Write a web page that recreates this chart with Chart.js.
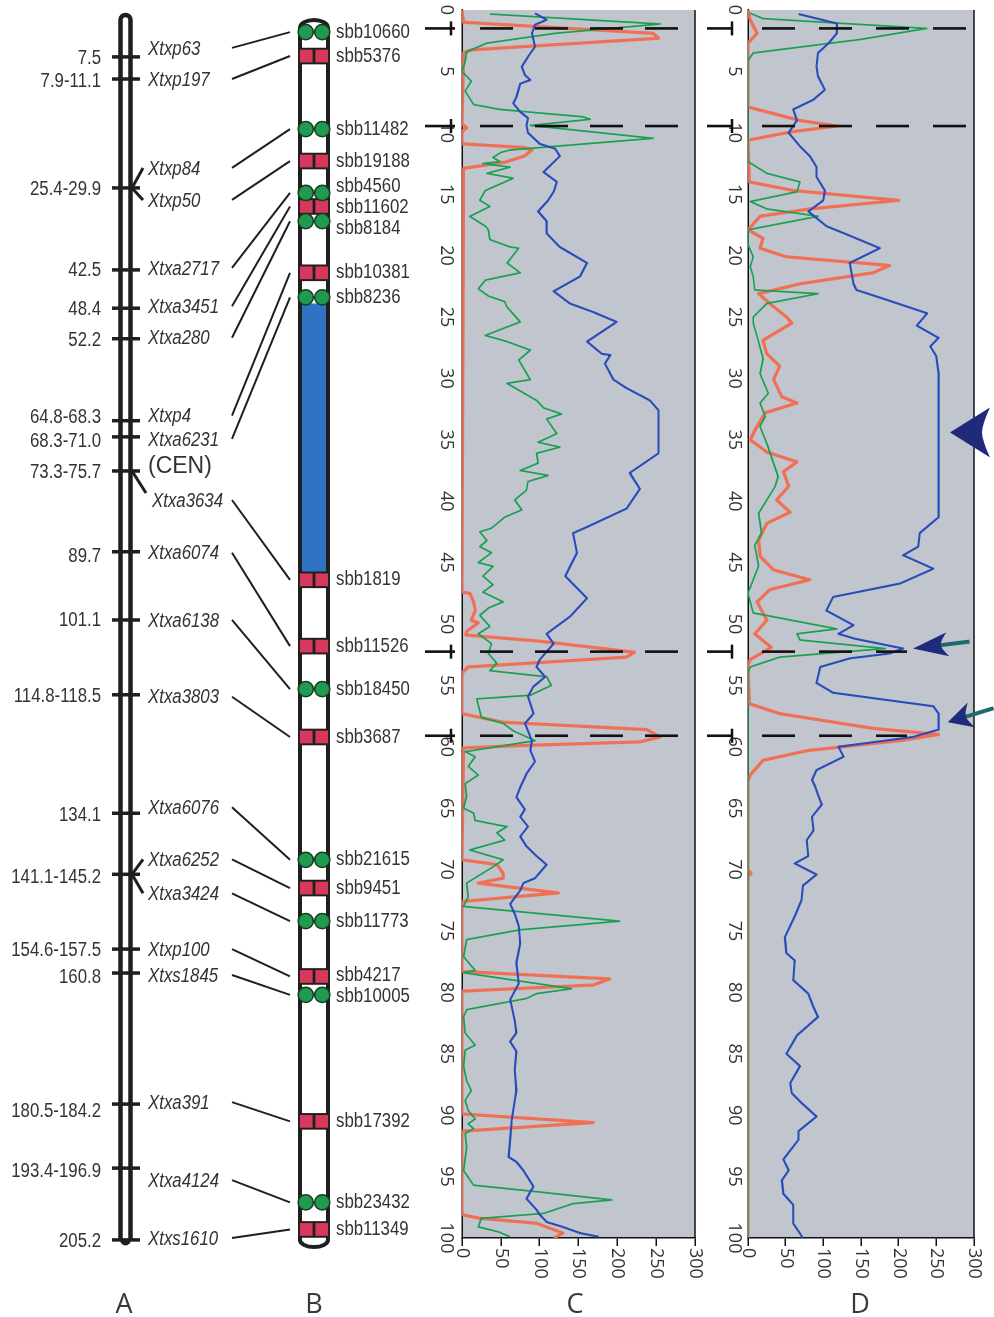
<!DOCTYPE html>
<html>
<head>
<meta charset="utf-8">
<script src="https://cdn.jsdelivr.net/npm/chart.js@4.4.1/dist/chart.umd.min.js"></script>
<style>
  html, body { margin: 0; padding: 0; background: #fff; }
  #page { position: relative; width: 994px; height: 1317px; overflow: hidden; background: #fff; }
  #mapCanvas { position: absolute; left: 0; top: 0; }
  .plot-box { position: absolute; left: 0; top: 0; width: 1317px; transform-origin: 0 0; }
  .plot-box canvas { display: block; }
</style>
</head>
<body>
<div id="page">
  <canvas id="mapCanvas" width="994" height="1317"></canvas>
  <div class="plot-box" id="boxC"><canvas id="chartC" width="1317" height="310"></canvas></div>
  <div class="plot-box" id="boxD"><canvas id="chartD" width="1317" height="300"></canvas></div>
</div>
<script>
// ---------- Panel A: genetic linkage map (cM) ----------
const aIntervals = ['7.5', '7.9-11.1', '25.4-29.9', '42.5', '48.4', '52.2', '64.8-68.3', '68.3-71.0',
  '73.3-75.7', '89.7', '101.1', '114.8-118.5', '134.1', '141.1-145.2', '154.6-157.5', '160.8',
  '180.5-184.2', '193.4-196.9', '205.2'];
const aTickCm = [7.5, 11.2, 29.4, 43.1, 49.5, 54.6, 68.3, 71.0, 76.7, 90.2, 101.6, 114.1, 133.9,
  144.1, 156.6, 160.6, 182.5, 193.2, 205.2];
const aNames = ['Xtxp63', 'Xtxp197', 'Xtxp84', 'Xtxp50', 'Xtxa2717', 'Xtxa3451', 'Xtxa280', 'Xtxp4',
  'Xtxa6231', 'Xtxa3634', 'Xtxa6074', 'Xtxa6138', 'Xtxa3803', 'Xtxa6076', 'Xtxa6252', 'Xtxa3424',
  'Xtxp100', 'Xtxs1845', 'Xtxa391', 'Xtxa4124', 'Xtxs1610'];
const aNameTick = [0, 1, 2, 2, 3, 4, 5, 6, 7, 8, 9, 10, 11, 12, 13, 13, 14, 15, 16, 17, 18];
const centromereTick = 8;

// ---------- Panel B: physical map (Mb), one marker per A name ----------
const bMarkers = ['sbb10660', 'sbb5376', 'sbb11482', 'sbb19188', 'sbb4560', 'sbb11602', 'sbb8184',
  'sbb10381', 'sbb8236', 'sbb1819', 'sbb11526', 'sbb18450', 'sbb3687', 'sbb21615', 'sbb9451',
  'sbb11773', 'sbb4217', 'sbb10005', 'sbb17392', 'sbb23432', 'sbb11349'];
const bMarkerMb = [1.8, 3.75, 9.7, 12.3, 14.9, 16.0, 17.2, 21.4, 23.4, 46.4, 51.8, 55.3, 59.2,
  69.2, 71.5, 74.2, 78.7, 80.2, 90.5, 97.1, 99.3];
const bMarkerType = ['c', 's', 'c', 's', 'c', 's', 'c', 's', 'c', 's', 's', 'c', 's', 'c', 's',
  'c', 's', 'c', 's', 'c', 's'];
const bBlueBlock = [23.9, 45.8];

// ---------- Panels C and D: scans along the chromosome (Mb) ----------
const positionTicks = [0, 5, 10, 15, 20, 25, 30, 35, 40, 45, 50, 55, 60, 65, 70, 75, 80, 85, 90, 95, 100];
const valueTicks = [0, 50, 100, 150, 200, 250, 300];
const cutLines = [1.5, 9.45, 52.25, 59.1];

const cRedPos = [0, 1.0, 1.9, 2.3, 3.25, 3.5, 9.3, 9.6, 9.9, 10.9, 11.2, 11.4, 11.9, 12.4, 12.9,
  47.4, 47.5, 48.2, 48.9, 49.7, 49.9, 50.6, 50.9, 51.4, 52.3, 52.7, 53.5, 54.0,
  57.3, 58.0, 58.6, 59.2, 59.6, 59.9, 60.1, 69.2, 69.6, 70.3, 70.7, 71.1, 71.9, 72.6,
  78.3, 78.9, 79.4, 79.9, 89.9, 90.6, 91.3, 98.1, 98.4, 98.8, 99.2, 99.6, 100];
const cRedVal = [0, 2, 246, 253, 12, 2, 0, 6, 0, 0, 80, 90, 80, 55, 2,
  0, 10, 15, 17, 12, 21, 6, 5, 100, 222, 212, 8, 0,
  0, 53, 238, 255, 229, 75, 2, 0, 45, 53, 53, 21, 124, 0,
  0, 190, 169, 0, 0, 169, 0, 0, 23, 96, 113, 130, 118];

const cGreenPos = [0.33, 1.14, 1.9, 2.7, 3.4, 4.2, 5.0, 5.8, 6.6, 7.7, 8.1, 8.7, 8.9, 9.4, 10.45,
  11.4, 11.6, 12.0, 12.35, 12.5, 12.8, 13.3, 13.7, 14.7, 15.5, 16.0, 16.8, 17.6, 17.9, 18.7,
  19.3, 19.4, 20.6, 21.4, 22.0, 22.7, 23.3, 23.75, 24.2, 25.4, 26.5, 27.0, 27.7, 28.5, 30.1,
  30.4, 31.8, 32.4, 32.9, 33.3, 34.5, 35.2, 35.6, 36.1, 36.9, 37.5, 37.9, 38.4, 39.1, 39.9,
  40.7, 41.3, 42.2, 42.5, 43.2, 43.7, 44.2, 45.0, 45.3, 46.1, 46.8, 47.4, 48.2, 48.7, 49.3,
  50.2, 50.8, 51.6, 52.4, 53.2, 53.8, 54.3, 55.0, 55.8, 56.1, 57.6, 58.1, 58.7, 59.5, 60.4,
  60.8, 61.6, 62.3, 63.0, 64.0, 65.0, 65.4, 66.0, 66.4, 66.5, 67.0, 67.6, 68.4, 69.2, 69.7,
  71.1, 72.2, 73.0, 74.2, 74.9, 75.7, 77.1, 78.2, 78.4, 79.7, 80.1, 80.5, 81.4, 82.0, 83.3,
  84.3, 84.7, 86.0, 87.2, 88.0, 88.8, 89.6, 90.3, 90.7, 91.1, 91.5, 92.6, 94.5, 95.7, 96.2,
  96.9, 97.2, 98.0, 98.4, 99.1, 99.5, 99.9];
const cGreenVal = [36, 255, 120, 32, 6, 4, 0, 12, 4, 15, 49, 156, 165, 88, 246,
  62, 50, 40, 49, 27, 62, 32, 66, 30, 23, 36, 10, 30, 34, 36,
  62, 73, 58, 75, 30, 21, 34, 55, 58, 75, 30, 58, 88, 73, 88,
  58, 96, 105, 128, 109, 122, 98, 126, 96, 98, 75, 111, 85, 83, 68,
  77, 55, 38, 23, 32, 23, 38, 21, 40, 27, 40, 27, 53, 34, 23,
  36, 21, 38, 34, 45, 36, 109, 115, 88, 19, 25, 53, 66, 94, 4,
  17, 8, 21, 4, 6, 2, 15, 17, 49, 58, 45, 55, 10, 53, 42,
  6, 8, 2, 203, 75, 6, 2, 17, 2, 141, 96, 83, 6, 2, 4,
  17, 4, 2, 6, 12, 4, 8, 17, 8, 15, 4, 6, 2, 15, 92,
  193, 143, 105, 25, 21, 47, 62];

const cBluePos = [0.27, 0.8, 1.2, 1.9, 3.0, 3.8, 4.6, 5.3, 5.7, 6.0, 7.1, 7.6, 8.3, 8.8, 9.4,
  10.0, 10.9, 11.3, 11.9, 13.2, 14.0, 14.8, 15.5, 16.4, 17.2, 18.2, 19.3, 20.6, 21.7, 22.9,
  23.9, 24.6, 25.4, 27.0, 28.0, 28.1, 28.8, 30.1, 30.8, 31.8, 32.6, 33.9, 36.1, 37.7, 39.0,
  40.6, 42.1, 42.6, 44.2, 46.1, 47.9, 49.4, 50.8, 51.6, 52.9, 53.5, 54.3, 55.1, 55.9, 57.3,
  58.1, 59.5, 60.3, 61.2, 62.2, 63.3, 64.1, 65.1, 65.7, 66.5, 67.3, 68.1, 68.9, 69.6, 70.7,
  71.1, 71.7, 72.8, 73.6, 74.6, 76.0, 77.6, 79.3, 80.6, 82.3, 83.3, 84.0, 84.8, 86.3, 88.0,
  88.8, 90.4, 92.0, 93.4, 93.8, 94.5, 95.8, 96.8, 97.7, 98.1, 98.7, 99.1, 99.6, 99.9];
const cBlueVal = [94, 109, 94, 90, 94, 85, 77, 81, 88, 75, 70, 66, 75, 85, 83,
  85, 100, 120, 126, 105, 122, 118, 111, 98, 109, 109, 126, 161, 152, 118,
  139, 169, 199, 161, 180, 191, 184, 195, 212, 242, 253, 253, 253, 216, 229,
  212, 161, 143, 148, 133, 161, 139, 109, 118, 100, 96, 107, 92, 85, 92,
  81, 90, 88, 94, 83, 75, 70, 81, 75, 85, 75, 83, 96, 109, 94,
  79, 75, 62, 68, 73, 75, 70, 73, 62, 68, 70, 62, 70, 68, 70,
  68, 64, 62, 60, 70, 79, 92, 83, 96, 100, 109, 130, 152, 176];

const dRedPos = [0, 0.8, 1.9, 2.7, 7.9, 9.0, 9.45, 9.9, 10.6, 14.0, 14.7, 15.5, 16.2, 16.8, 17.9,
  18.6, 19.4, 20.1, 20.8, 21.4, 22.3, 23.1, 23.9, 25.0, 25.5, 26.9, 28.0, 29.0, 30.1, 31.5,
  32.0, 32.8, 33.9, 35.0, 36.0, 36.8, 37.6, 38.8, 39.9, 40.9, 41.8, 43.2, 44.5, 45.6, 46.4,
  47.2, 48.2, 49.7, 50.8, 51.9, 52.9, 53.3, 56.5, 57.3, 58.5, 59.0, 59.5, 60.3, 61.1, 62.3,
  62.8, 70.0, 70.3, 70.6, 100];
const dRedVal = [0, 3, 12, 0, 0, 69, 118, 60, 0, 2, 60, 200, 82, 16, 0,
  20, 16, 51, 188, 166, 69, 14, 29, 51, 58, 20, 25, 42, 34, 45,
  65, 23, 12, 3, 25, 65, 47, 54, 38, 56, 25, 14, 16, 34, 82,
  29, 12, 25, 9, 31, 3, 0, 2, 42, 166, 253, 202, 80, 20, 3,
  0, 0, 4, 0, 0];

const dGreenPos = [0.27, 0.7, 1.5, 2.4, 3.5, 4.1, 12.35, 13.3, 14.0, 14.8, 15.6, 16.2, 16.8, 17.9,
  19.1, 20.1, 20.9, 21.7, 22.8, 23.1, 23.9, 25.0, 25.5, 27.0, 28.4, 29.6, 31.2, 32.0, 33.1,
  33.9, 35.3, 38.0, 38.8, 41.0, 42.6, 43.6, 45.3, 47.5, 49.1, 50.4, 50.8, 51.3, 52.0, 52.7,
  53.5, 54.0, 100];
const dGreenVal = [3, 20, 237, 149, 7, 0, 0, 25, 69, 65, 3, 25, 93, 0,
  0, 7, 3, 7, 9, 93, 25, 7, 7, 14, 20, 16, 27, 16, 23,
  16, 25, 40, 36, 14, 18, 9, 14, 0, 7, 118, 65, 69, 182, 42,
  3, 0, 0];

const dBluePos = [0.33, 1.1, 1.9, 2.7, 3.5, 4.6, 5.4, 6.5, 7.3, 8.1, 9.0, 10.0, 11.1, 11.9, 12.8,
  13.6, 14.7, 15.5, 16.4, 17.6, 18.5, 19.4, 20.6, 22.3, 22.8, 23.6, 24.7, 25.7, 26.7, 27.4,
  28.2, 29.6, 41.3, 42.6, 43.7, 44.4, 45.5, 46.7, 47.8, 48.9, 50.1, 50.8, 51.2, 52.0, 52.4,
  52.8, 53.5, 54.8, 55.6, 56.7, 57.3, 58.6, 59.2, 60.0, 60.8, 61.9, 62.7, 63.2, 63.9, 64.7,
  65.7, 66.8, 67.6, 68.9, 69.5, 70.4, 71.3, 72.5, 73.8, 75.5, 76.8, 77.4, 79.0, 80.1, 81.2,
  82.0, 83.5, 85.0, 86.0, 87.4, 88.2, 89.0, 90.1, 91.3, 92.0, 93.6, 94.5, 95.3, 96.4, 97.3,
  98.8, 100];
const dBlueVal = [67, 118, 118, 107, 93, 91, 93, 102, 87, 60, 65, 54, 69, 82, 91,
  91, 102, 100, 80, 104, 140, 175, 135, 140, 144, 184, 238, 224, 253, 242,
  250, 253, 253, 228, 226, 206, 246, 202, 113, 104, 140, 120, 142, 206, 188,
  135, 96, 91, 113, 246, 253, 253, 219, 120, 127, 91, 85, 89, 93, 98,
  85, 87, 78, 80, 62, 91, 73, 71, 62, 49, 51, 62, 60, 80, 87,
  93, 65, 51, 69, 56, 58, 71, 91, 67, 67, 47, 54, 45, 47, 60,
  60, 73];

// arrows drawn on panel D (tip position in Mb, tip value)
const dArrowPos = [34.4, 52.0, 58.0];
const dArrowVal = [268, 219, 265];

// ---------- layout (pixels) ----------
const L = {
  aTickX: 126, aTickRight: 132, intervalX: 101, nameX: 148,
  intervalDy: [0, 1, 0, -1, 0, 1, -4, 3, 0, 4, -1, 1, 1, 2, 0, 3, 6, 2, 0],
  nameDy: [-9, 0, -20, 12, -2, -2, -1, -5, 2, 29, 1, 0, 2, -6, -15, 19, 0, 2, -2, 12, -2],
  forks: [2, 3, 9, 14, 15],
  linkStartX: 232, linkEndX: 290,
  bLeft: 300, bRight: 328, bMid: 314, bLabelX: 336, bLabelGap: 21,
  narrow: 0.82,
  textFont: '20.5px "Liberation Sans", Arial, sans-serif',
  nameFont: 'italic 20.5px "Liberation Sans", Arial, sans-serif',
  letterFont: '27px "Open Sans", sans-serif',
  letters: [['A', 124], ['B', 314], ['C', 575], ['D', 860]], letterY: 1305
};

// each scan panel is drawn on a 1317 x H canvas and turned so that its left edge lands at `left`
const panelC = { left: 400, H: 310, top: 15, axisH: 62, labelPad: 5,
  solid: [425, 455], barX: 451, dashFrom: 480, dashTo: [683, 683, 683, 683], dash: [33, 22], arrows: false };
const panelD = { left: 694, H: 300, top: 20, axisH: 54, labelPad: 3,
  solid: [707, 733], barX: 732, dashFrom: 762, dashTo: [968, 968, 907, 907], dash: [33, 24], arrows: true };
const arrowShapes = [
  { angle: 0, len: 40, half: 25, notch: 8, shaft: 0 },
  { angle: -7, len: 35, half: 12, notch: 7, shaft: 57 },
  { angle: -17, len: 25, half: 13, notch: 6, shaft: 48 }
];

/**
 * Helpers
 */
function narrowText(ctx, text, x, y, align) {
  ctx.save();
  ctx.translate(x, y);
  ctx.scale(L.narrow, 1);
  ctx.textAlign = align;
  ctx.fillText(text, 0, 0);
  ctx.restore();
}

// push apart labels that would overlap, keeping each cluster centred
function spreadLabels(ys, gap) {
  const out = ys.slice();
  let i = 0;
  while (i < ys.length) {
    let j = i;
    while (j + 1 < ys.length && ys[j + 1] - ys[j] < gap) j++;
    if (j > i) {
      const mid = ys.slice(i, j + 1).reduce((s, v) => s + v, 0) / (j - i + 1);
      for (let k = i; k <= j; k++) out[k] = mid + (k - i - (j - i) / 2) * gap;
    }
    i = j + 1;
  }
  return out;
}

function series(pos, val) {
  return pos.map((p, i) => ({ x: p, y: val[i] }));
}

/**
 * Panels A and B
 */
const mapDecor = {
  id: 'mapDecor',
  beforeDatasetsDraw(chart) {
    const ctx = chart.ctx;
    const cm = chart.scales.yCm;
    const mb = chart.scales.yMb;
    ctx.save();
    ctx.strokeStyle = '#1f1f1f';
    ctx.fillStyle = '#1f1f1f';

    // A chromosome
    const aTop = cm.getPixelForValue(0) + 8;
    const aBot = cm.getPixelForValue(aTickCm[aTickCm.length - 1]);
    ctx.lineWidth = 4.5;
    ctx.beginPath();
    ctx.moveTo(120.5, aBot);
    ctx.lineTo(120.5, aTop);
    ctx.arc(125.5, aTop, 5, Math.PI, 0);
    ctx.lineTo(130.5, aBot);
    ctx.stroke();
    ctx.beginPath();
    ctx.arc(125.5, aBot, 5.5, 0, Math.PI);
    ctx.fill();

    // forks and pointer from shared ticks to their names
    ctx.lineWidth = 3;
    L.forks.forEach(i => {
      const ty = cm.getPixelForValue(aTickCm[aNameTick[i]]);
      const ly = ty + L.nameDy[i] - (L.nameDy[i] > 20 ? 7 : 0);
      ctx.beginPath();
      ctx.moveTo(L.aTickRight, ty);
      ctx.lineTo(L.aTickRight + (L.nameDy[i] > 20 ? 14 : 11), ly);
      ctx.stroke();
    });

    // links between A names and B markers
    ctx.lineWidth = 2;
    aNames.forEach((n, i) => {
      const ly = cm.getPixelForValue(aTickCm[aNameTick[i]]) + L.nameDy[i];
      const my = mb.getPixelForValue(bMarkerMb[i]);
      ctx.beginPath();
      ctx.moveTo(L.linkStartX, ly);
      ctx.lineTo(L.linkEndX, my);
      ctx.stroke();
    });

    // B chromosome with the blue block
    const bTop = mb.getPixelForValue(0) + 18;
    const bBot = mb.getPixelForValue(100) + 2;
    ctx.fillStyle = '#2f73c2';
    const blueTop = mb.getPixelForValue(bBlueBlock[0]);
    const blueBot = mb.getPixelForValue(bBlueBlock[1]);
    ctx.fillRect(L.bLeft, blueTop, L.bRight - L.bLeft, blueBot - blueTop);
    ctx.lineWidth = 4;
    ctx.beginPath();
    ctx.moveTo(L.bLeft, bBot);
    ctx.lineTo(L.bLeft, bTop);
    ctx.ellipse(L.bMid, bTop, (L.bRight - L.bLeft) / 2, 8, 0, Math.PI, 0);
    ctx.lineTo(L.bRight, bBot);
    ctx.ellipse(L.bMid, bBot, (L.bRight - L.bLeft) / 2, 7, 0, 0, Math.PI);
    ctx.stroke();

    // dark bands behind the square marker pairs
    ctx.fillStyle = '#1f1f1f';
    bMarkerMb.forEach((p, i) => {
      if (bMarkerType[i] !== 's') return;
      const y = mb.getPixelForValue(p);
      ctx.fillRect(L.bLeft - 1, y - 8.3, L.bRight - L.bLeft + 2, 16.6);
    });
    ctx.restore();
  },
  afterDatasetsDraw(chart) {
    const ctx = chart.ctx;
    const cm = chart.scales.yCm;
    const mb = chart.scales.yMb;
    ctx.save();
    ctx.fillStyle = '#333';
    ctx.textBaseline = 'middle';

    // A: interval labels on the left
    ctx.font = L.textFont;
    aIntervals.forEach((t, i) => {
      narrowText(ctx, t, L.intervalX, cm.getPixelForValue(aTickCm[i]) + L.intervalDy[i] + 1, 'right');
    });

    // A: marker names
    ctx.font = L.nameFont;
    aNames.forEach((n, i) => {
      const y = cm.getPixelForValue(aTickCm[aNameTick[i]]) + L.nameDy[i];
      narrowText(ctx, n, L.nameX + (L.nameDy[i] > 20 ? 4 : 0), y + 1, 'left');
    });
    ctx.font = '23px "Liberation Sans", Arial, sans-serif';
    ctx.textAlign = 'left';
    ctx.fillText('(CEN)', L.nameX, cm.getPixelForValue(aTickCm[centromereTick]) - 4);

    // B: marker labels
    ctx.font = L.textFont;
    const ys = spreadLabels(bMarkerMb.map(p => mb.getPixelForValue(p)), L.bLabelGap);
    bMarkers.forEach((n, i) => narrowText(ctx, n, L.bLabelX, ys[i], 'left'));

    // panel letters
    ctx.font = L.letterFont;
    ctx.textAlign = 'center';
    ctx.fillStyle = '#3a3a3a';
    L.letters.forEach(([t, x]) => ctx.fillText(t, x, L.letterY));
    ctx.restore();
  }
};

const circleData = [];
const squareData = [];
bMarkerMb.forEach((p, i) => {
  const target = bMarkerType[i] === 'c' ? circleData : squareData;
  const off = bMarkerType[i] === 'c' ? 8.25 : 7.75;
  target.push({ x: L.bMid - off, y: p }, { x: L.bMid + off, y: p });
});

new Chart(document.getElementById('mapCanvas'), {
  type: 'scatter',
  data: {
    datasets: [
      {
        label: 'A ticks',
        data: aTickCm.map(c => ({ x: L.aTickX, y: c })),
        yAxisID: 'yCm',
        pointStyle: 'line',
        pointRadius: 14,
        pointBorderWidth: 3.5,
        pointBorderColor: '#1f1f1f'
      },
      {
        label: 'circle markers',
        data: circleData,
        yAxisID: 'yMb',
        pointStyle: 'circle',
        pointRadius: 7.6,
        pointBackgroundColor: '#1f9a4f',
        pointBorderColor: '#183b22',
        pointBorderWidth: 1.5
      },
      {
        label: 'square markers',
        data: squareData,
        yAxisID: 'yMb',
        pointStyle: 'rect',
        pointRadius: 9,
        pointBackgroundColor: '#d8385c',
        pointBorderWidth: 0
      }
    ]
  },
  options: {
    responsive: false,
    animation: false,
    devicePixelRatio: 1,
    events: [],
    layout: { padding: 0, autoPadding: false },
    plugins: { legend: { display: false }, tooltip: { enabled: false } },
    scales: {
      x: { type: 'linear', min: 0, max: 994, display: false },
      yCm: { type: 'linear', min: -2.005, max: 218.08, reverse: true, display: false },
      yMb: { type: 'linear', min: -0.814, max: 106.43, reverse: true, display: false }
    }
  },
  plugins: [mapDecor]
});

/**
 * Panels C and D (drawn unrotated, then turned 90 degrees clockwise)
 */
function drawArrow(ctx, tx, ty, s) {
  ctx.save();
  ctx.translate(tx, ty);
  ctx.rotate(s.angle * Math.PI / 180);
  if (s.shaft) {
    ctx.strokeStyle = '#1d6b6d';
    ctx.lineWidth = 4;
    ctx.beginPath();
    ctx.moveTo(s.len - s.notch - 2, 0);
    ctx.lineTo(s.shaft, 0);
    ctx.stroke();
  }
  ctx.fillStyle = '#1f2a7a';
  ctx.beginPath();
  ctx.moveTo(0, 0);
  ctx.lineTo(s.len, -s.half);
  ctx.quadraticCurveTo(s.len - s.notch, -s.half * 0.3, s.len - s.notch, 0);
  ctx.quadraticCurveTo(s.len - s.notch, s.half * 0.3, s.len, s.half);
  ctx.closePath();
  ctx.fill();
  ctx.restore();
}

function makePlotDecor(panel) {
  return {
    id: 'plotDecor',
    beforeDraw(chart) {
      const { ctx, chartArea: a } = chart;
      ctx.save();
      ctx.fillStyle = '#c1c5cd';
      ctx.fillRect(a.left, a.top, a.right - a.left, a.bottom - a.top);
      ctx.restore();
    },
    afterDatasetsDraw(chart) {
      const { ctx, chartArea: a } = chart;
      const xs = chart.scales.x;
      const ys = chart.scales.y;
      ctx.save();
      // far border of the plot (screen right side)
      ctx.strokeStyle = '#111';
      ctx.lineWidth = 1.5;
      ctx.beginPath();
      ctx.moveTo(a.left, a.top);
      ctx.lineTo(a.right, a.top);
      ctx.stroke();

      // switch to screen coordinates
      ctx.transform(0, -1, 1, 0, 0, panel.left + panel.H);
      const screenX = v => panel.left + panel.H - ys.getPixelForValue(v);

      ctx.strokeStyle = '#111';
      ctx.lineWidth = 2.6;
      cutLines.forEach((p, i) => {
        const sy = xs.getPixelForValue(p);
        ctx.setLineDash([]);
        ctx.beginPath();
        ctx.moveTo(panel.solid[0], sy);
        ctx.lineTo(panel.solid[1], sy);
        ctx.moveTo(panel.barX, sy - 7);
        ctx.lineTo(panel.barX, sy + 7);
        ctx.stroke();
        ctx.setLineDash(panel.dash);
        ctx.beginPath();
        ctx.moveTo(panel.dashFrom, sy);
        ctx.lineTo(panel.dashTo[i], sy);
        ctx.stroke();
      });
      ctx.setLineDash([]);

      if (panel.arrows) {
        dArrowPos.forEach((p, i) => {
          drawArrow(ctx, screenX(dArrowVal[i]), xs.getPixelForValue(p), arrowShapes[i]);
        });
      }
      ctx.restore();
    }
  };
}

function makeScanChart(canvasId, boxId, panel, red, green, blue) {
  const box = document.getElementById(boxId);
  box.style.height = panel.H + 'px';
  box.style.transform = `translateX(${panel.left + panel.H}px) rotate(90deg)`;
  const tickFont = { family: '"Open Sans", sans-serif', size: 18 };

  return new Chart(document.getElementById(canvasId), {
    type: 'scatter',
    data: {
      datasets: [
        { label: 'blue', data: blue, borderColor: '#2a4cbb', borderWidth: 2.1 },
        { label: 'green', data: green, borderColor: '#17a14f', borderWidth: 1.7 },
        { label: 'red', data: red, borderColor: 'rgba(242,108,78,0.95)', borderWidth: 3.2 }
      ].map(d => Object.assign(d, { showLine: true, pointRadius: 0, tension: 0, borderJoinStyle: 'round' }))
    },
    options: {
      responsive: false,
      animation: false,
      devicePixelRatio: 1,
      events: [],
      layout: { padding: { left: 10, top: panel.top, right: 0, bottom: 0 }, autoPadding: false },
      plugins: { legend: { display: false }, tooltip: { enabled: false } },
      scales: {
        x: {
          type: 'linear',
          position: 'bottom',
          min: 0,
          max: 100,
          afterBuildTicks: s => { s.ticks = positionTicks.map(v => ({ value: v })); },
          afterFit: s => { s.height = panel.axisH; s.paddingLeft = 0; s.paddingRight = 0; },
          grid: { display: false, drawTicks: false },
          border: { display: true, color: '#111', width: 1.5 },
          ticks: { autoSkip: false, maxRotation: 0, minRotation: 0, padding: panel.labelPad, color: '#333', font: tickFont }
        },
        y: {
          type: 'linear',
          position: 'right',
          min: 0,
          max: 300,
          afterBuildTicks: s => { s.ticks = valueTicks.map(v => ({ value: v })); },
          afterFit: s => { s.width = 1317 - 1238; s.paddingTop = 0; s.paddingBottom = 0; },
          grid: { display: true, drawOnChartArea: false, drawTicks: true, tickLength: 8, color: '#111', lineWidth: 1.5 },
          border: { display: true, color: '#111', width: 1.5 },
          ticks: { padding: 2, color: '#333', font: tickFont }
        }
      }
    },
    plugins: [makePlotDecor(panel)]
  });
}

makeScanChart('chartC', 'boxC', panelC,
  series(cRedPos, cRedVal), series(cGreenPos, cGreenVal), series(cBluePos, cBlueVal));
makeScanChart('chartD', 'boxD', panelD,
  series(dRedPos, dRedVal), series(dGreenPos, dGreenVal), series(dBluePos, dBlueVal));
</script>
</body>
</html>
